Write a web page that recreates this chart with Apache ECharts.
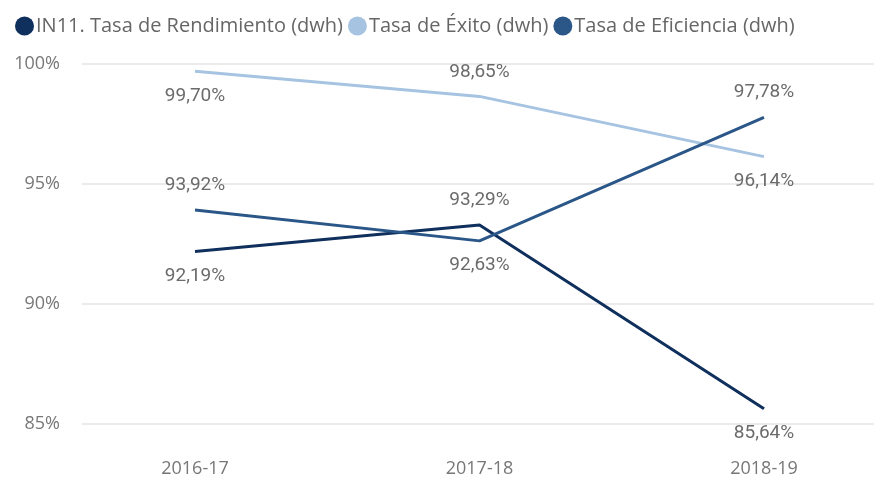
<!DOCTYPE html>
<html>
<head>
<meta charset="utf-8">
<script src="https://cdn.jsdelivr.net/npm/echarts@6/dist/echarts.min.js"></script>
<style>
html, body { margin: 0; padding: 0; background: #fff; }
#main { width: 874px; height: 479px; }
</style>
</head>
<body>
<div id="main"></div>
<script>
var categories = ['2016-17', '2017-18', '2018-19'];
var rendimiento = [92.19, 93.29, 85.64];
var exito = [99.70, 98.65, 96.14];
var eficiencia = [93.92, 92.63, 97.78];
var yTicks = [85, 90, 95, 100];

// label side for each point (style only)
var posRend = ['bottom', 'top', 'bottom'];
var posExito = ['bottom', 'top', 'bottom'];
var posEfic = ['top', 'bottom', 'top'];

function fmt(v) {
    return v.toFixed(2).replace('.', ',') + '%';
}

function makeSeries(name, values, positions, color) {
    return {
        name: name,
        type: 'line',
        xAxisIndex: 1,
        yAxisIndex: 1,
        symbol: 'circle',
        symbolSize: 0.1,
        showSymbol: true,
        lineStyle: { width: 3, color: color },
        itemStyle: { color: color },
        emphasis: { disabled: true },
        data: values.map(function (v, i) {
            return {
                value: v,
                label: { position: positions[i] }
            };
        }),
        label: {
            show: true,
            distance: 15,
            color: '#6b6b6b',
            fontFamily: 'Roboto',
            fontSize: 19,
            formatter: function (p) { return fmt(p.value); }
        }
    };
}

var myChart = echarts.init(document.getElementById('main'));
myChart.setOption({
    animation: false,
    legend: {
        left: 10,
        top: 11,
        icon: 'circle',
        itemWidth: 19,
        itemHeight: 19,
        itemGap: 5,
        textStyle: { color: '#666', fontFamily: 'Open Sans', fontSize: 20, padding: [0, 0, 0, -3] },
        data: ['IN11. Tasa de Rendimiento (dwh)', 'Tasa de Éxito (dwh)', 'Tasa de Eficiencia (dwh)']
    },
    grid: [
        { left: 82, right: 0, top: 64, bottom: 55 },
        { left: 195, right: 110, top: 64, bottom: 55 }
    ],
    xAxis: [
        { gridIndex: 0, type: 'value', show: false, min: 0, max: 1 },
        {
            gridIndex: 1,
            type: 'category',
            boundaryGap: false,
            data: categories,
            axisLine: { show: false },
            axisTick: { show: false },
            axisLabel: { color: '#777', fontFamily: 'Open Sans', fontSize: 18, margin: 36 }
        }
    ],
    yAxis: [
        {
            gridIndex: 0,
            type: 'value',
            min: yTicks[0],
            max: yTicks[yTicks.length - 1],
            interval: 5,
            axisLine: { show: false },
            axisTick: { show: false },
            axisLabel: { color: '#777', fontFamily: 'Open Sans', fontSize: 18, margin: 22, formatter: '{value}%' },
            splitLine: { lineStyle: { color: '#ebebeb', width: 2 } }
        },
        {
            gridIndex: 1,
            type: 'value',
            min: yTicks[0],
            max: yTicks[yTicks.length - 1],
            interval: 5,
            show: false,
            splitLine: { show: false }
        }
    ],
    series: [
        makeSeries('IN11. Tasa de Rendimiento (dwh)', rendimiento, posRend, '#0f2f5d'),
        makeSeries('Tasa de Éxito (dwh)', exito, posExito, '#a6c4e1'),
        makeSeries('Tasa de Eficiencia (dwh)', eficiencia, posEfic, '#2a5688')
    ]
});
</script>
</body>
</html>
